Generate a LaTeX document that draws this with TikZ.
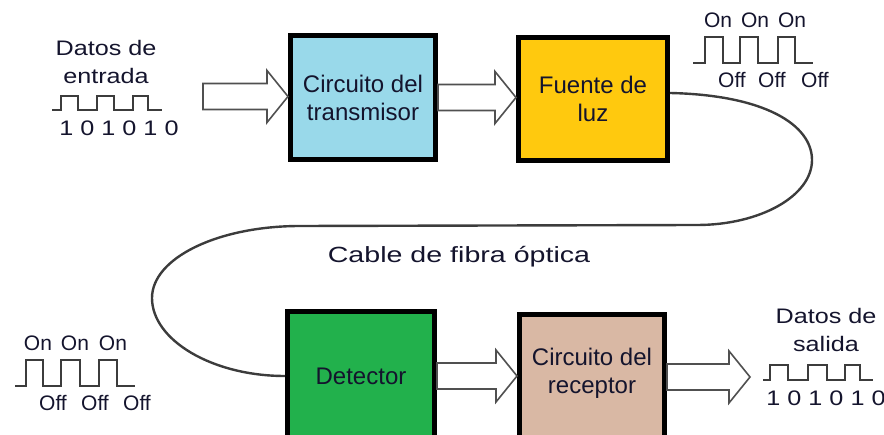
\documentclass[tikz,border=0pt]{standalone}
\usepackage{fontspec}
\setmainfont{Liberation Sans}
\newfontfamily\widefont[FakeStretch=1.2]{Liberation Sans}
\newfontfamily\cablefont[FakeStretch=1.3]{Liberation Sans}
\usetikzlibrary{calc}
\definecolor{txblue}{RGB}{153,217,234}
\definecolor{flyellow}{RGB}{255,201,14}
\definecolor{detgreen}{RGB}{34,177,76}
\definecolor{rxtan}{RGB}{217,184,164}
\definecolor{arrowgray}{RGB}{80,80,80}
\definecolor{wavegray}{RGB}{60,60,60}
\definecolor{labelink}{RGB}{20,20,45}

\begin{document}
\begin{tikzpicture}[x=1pt, y=-1pt,
    block/.style={draw=black, line width=5pt, align=center, inner sep=0pt,
        text=labelink, font=\fontsize{24}{28}\selectfont},
    hollow/.style={draw=arrowgray, line width=1.6pt, fill=white, line join=miter},
    wave/.style={draw=wavegray, line width=2pt},
    lbl/.style={align=center, inner sep=0pt, text=labelink,
        font=\widefont\fontsize{21}{28}\selectfont},
    onoff/.style={inner sep=0pt, text=labelink, font=\fontsize{21}{24}\selectfont},
    cable/.style={draw=wavegray, line width=2.4pt}]
    \useasboundingbox (0,0) rectangle (884,435);

    % bloques
    \node[block, fill=txblue, minimum width=145pt, minimum height=124pt] (tx) at (363,97.5) {Circuito del\\transmisor};
    \node[block, fill=flyellow, minimum width=149pt, minimum height=123pt] (fl) at (593,99) {Fuente de\\luz};
    \node[block, fill=detgreen, minimum width=147pt, minimum height=129pt] (det) at (361,376) {Detector};
    \node[block, fill=rxtan, minimum width=145pt, minimum height=125pt, text depth=13pt] (rx) at (592,377) {Circuito del\\receptor};

    \coordinate (in1) at (203,96.5);
    \coordinate (out1) at (750,377);

    % flechas huecas
    \foreach \a/\b in {in1/tx.west, tx.east/fl.west, det.east/rx.west, rx.east/out1}
        \draw[hollow] let \p1=(\a), \p2=(\b) in
            (\x1,\y1+13) -- (\x2-21,\y1+13) -- (\x2-21,\y1+26) -- (\x2,\y1)
            -- (\x2-21,\y1-26) -- (\x2-21,\y1-13) -- (\x1,\y1-13) -- cycle;

    % cable de fibra
    \draw[cable] ([yshift=6pt]fl.east) .. controls (765,95) and (812,125) .. (812,160)
        .. controls (812,196) and (760,225) .. (697,225) -- (300,226)
        .. controls (218,226) and (152,258) .. (152,298)
        .. controls (152,340) and (212,376) .. (det.west);
    \node[inner sep=0pt, anchor=base, text=labelink, font=\cablefont\fontsize{22}{26}\selectfont] (cablelbl) at (459,263) {Cable de fibra óptica};

    % datos de entrada
    \node[lbl] (inlbl) at (106,61.5) {Datos de\\entrada};
    \draw[wave] (52,110) -- (61,110) -- (61,96) -- (78,96) -- (78,110) -- (97,110) -- (97,96) -- (114,96)
        -- (114,110) -- (133,110) -- (133,96) -- (148,96) -- (148,110) -- (162,110);
    \node[lbl] (inbits) at (119,128) {1 0 1 0 1 0};

    % luz on/off
    \draw[wave] (693,63) -- (705,63) -- (705,37) -- (723,37) -- (723,63) -- (740,63) -- (740,37) -- (758,37)
        -- (758,63) -- (778,63) -- (778,37) -- (795,37) -- (795,63) -- (813,63);
    \foreach \x [count=\i] in {718,755,792}
        \node[onoff] (topon\i) at (\x,20) {On};
    \foreach \x [count=\i] in {732,772,815}
        \node[onoff] (topoff\i) at (\x,80) {Off};

    \draw[wave] (15,386) -- (26,386) -- (26,360) -- (43,360) -- (43,386) -- (61,386) -- (61,360) -- (80,360)
        -- (80,386) -- (99,386) -- (99,360) -- (117,360) -- (117,386) -- (135,386);
    \foreach \x [count=\i] in {38,75,113}
        \node[onoff] (boton\i) at (\x,343) {On};
    \foreach \x [count=\i] in {53,95,137}
        \node[onoff] (botoff\i) at (\x,403) {Off};

    % datos de salida
    \node[lbl] (outlbl) at (826,330) {Datos de\\salida};
    \draw[wave] (763,380) -- (770,380) -- (770,365) -- (788,365) -- (788,380) -- (808,380) -- (808,365) -- (827,365)
        -- (827,380) -- (845,380) -- (845,365) -- (860,365) -- (860,380) -- (873,380);
    \node[lbl] (outbits) at (826,398) {1 0 1 0 1 0};
\end{tikzpicture}
\end{document}
